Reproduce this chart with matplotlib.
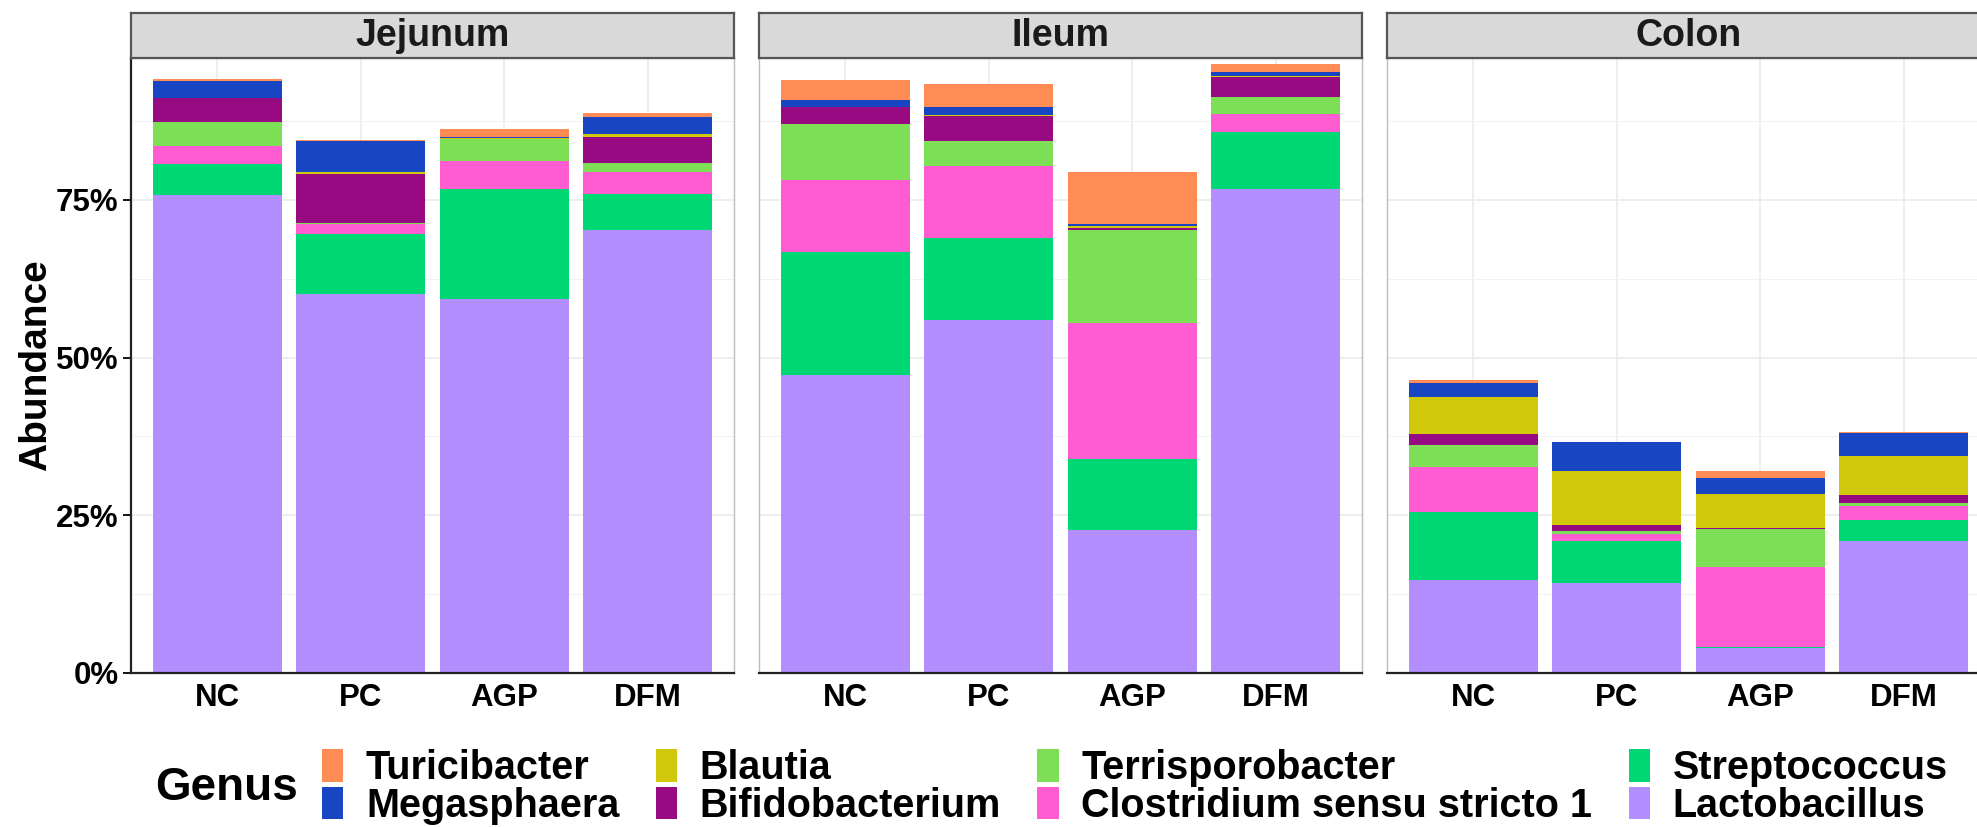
import numpy as np
import matplotlib
matplotlib.use("Agg")
import matplotlib.pyplot as plt
from matplotlib.patches import Patch
from matplotlib.ticker import MultipleLocator, FixedLocator

plt.rcParams['font.family'] = ['Liberation Sans', 'DejaVu Sans']
plt.rcParams['font.weight'] = 'bold'

## Data ##
sites = ["Jejunum", "Ileum", "Colon"]
groups = ["NC", "PC", "AGP", "DFM"]

# stacking order, bottom to top
genera = ["Lactobacillus", "Streptococcus", "Clostridium sensu stricto 1",
          "Terrisporobacter", "Bifidobacterium", "Blautia",
          "Megasphaera", "Turicibacter"]
colours = ["#B28EFF", "#00D873", "#FF5CD2", "#7DDF55",
           "#970A81", "#D1C70B", "#1845C2", "#FF8C55"]

# abundance (%) per genus, columns NC, PC, AGP, DFM
jejunum = {
    "Lactobacillus":               [75.8, 60.1, 59.3, 70.3],
    "Streptococcus":               [4.9, 9.5, 17.4, 5.7],
    "Clostridium sensu stricto 1": [2.8, 1.6, 4.5, 3.4],
    "Terrisporobacter":            [3.8, 0.1, 3.4, 1.5],
    "Bifidobacterium":             [3.8, 7.8, 0.1, 4.0],
    "Blautia":                     [0.1, 0.4, 0.1, 0.6],
    "Megasphaera":                 [2.6, 4.9, 0.1, 2.7],
    "Turicibacter":                [0.3, 0.1, 1.3, 0.6],
}
ileum = {
    "Lactobacillus":               [47.3, 55.9, 22.7, 76.8],
    "Streptococcus":               [19.4, 13.0, 11.2, 9.0],
    "Clostridium sensu stricto 1": [11.4, 11.5, 21.6, 2.8],
    "Terrisporobacter":            [9.0, 4.0, 14.8, 2.7],
    "Bifidobacterium":             [2.6, 3.9, 0.3, 3.2],
    "Blautia":                     [0.1, 0.1, 0.3, 0.1],
    "Megasphaera":                 [1.0, 1.4, 0.3, 0.7],
    "Turicibacter":                [3.2, 3.6, 8.2, 1.3],
}
colon = {
    "Lactobacillus":               [14.8, 14.3, 4.0, 21.0],
    "Streptococcus":               [10.8, 6.6, 0.1, 3.2],
    "Clostridium sensu stricto 1": [7.0, 1.1, 12.7, 2.3],
    "Terrisporobacter":            [3.5, 0.5, 6.1, 0.5],
    "Bifidobacterium":             [1.8, 1.0, 0.1, 1.2],
    "Blautia":                     [5.9, 8.5, 5.4, 6.2],
    "Megasphaera":                 [2.1, 4.6, 2.5, 3.7],
    "Turicibacter":                [0.5, 0.0, 1.1, 0.1],
}
site_data = [jejunum, ileum, colon]

y_ticks = [0, 25, 50, 75]
y_ticklabels = ["0%", "25%", "50%", "75%"]

## Layout (pixels) ##
W, H = 1977, 827
fig = plt.figure(figsize=(W / 100, H / 100), dpi=100)

panel_left = [131, 759, 1387]
panel_w = 603
panel_top, panel_bot = 58, 673
strip_top = 13

for i, (site, data) in enumerate(zip(sites, site_data)):
    ax = fig.add_axes([panel_left[i] / W, (H - panel_bot) / H,
                       panel_w / W, (panel_bot - panel_top) / H])
    x = np.arange(len(groups))
    bottom = np.zeros(len(groups))
    for g, c in zip(genera, colours):
        vals = np.array(data[g])
        ax.bar(x, vals, width=0.9, bottom=bottom, color=c, linewidth=0)
        bottom += vals

    ax.set_xlim(-0.6, len(groups) - 0.4)
    ax.set_ylim(0, 97.5)
    ax.set_xticks(x)
    ax.set_xticklabels(groups, fontsize=22.5, fontweight='bold')
    ax.tick_params(axis='x', length=0, pad=7)
    ax.yaxis.set_major_locator(FixedLocator(y_ticks))
    ax.yaxis.set_minor_locator(MultipleLocator(12.5))
    ax.grid(True, which='major', color='#EBEBEB', linewidth=1.2, zorder=0)
    ax.grid(True, which='minor', axis='y', color='#F2F2F2', linewidth=0.7, zorder=0)
    ax.set_axisbelow(True)
    ax.tick_params(axis='y', which='minor', length=0)

    for s in ['top', 'right', 'left']:
        ax.spines[s].set_color('#BDBDBD')
        ax.spines[s].set_linewidth(1.0)
    ax.spines['bottom'].set_color('#222222')
    ax.spines['bottom'].set_linewidth(1.6)

    if i == 0:
        ax.spines['left'].set_color('#222222')
        ax.spines['left'].set_linewidth(1.6)
        ax.set_yticklabels(y_ticklabels, fontsize=22.5, fontweight='bold')
        ax.tick_params(axis='y', which='major', length=6, width=1.3, pad=3)
        ax.set_ylabel("Abundance", fontsize=28, fontweight='bold')
        ax.yaxis.label.set_va('center')
        ax.yaxis.set_label_coords(-0.158, 0.5)
    else:
        ax.set_yticklabels([])
        ax.tick_params(axis='y', which='major', length=0)

    # facet strip
    sax = fig.add_axes([panel_left[i] / W, (H - panel_top) / H,
                        panel_w / W, (panel_top - strip_top) / H])
    sax.set_facecolor('#D9D9D9')
    sax.set_xticks([])
    sax.set_yticks([])
    for s in sax.spines.values():
        s.set_color('#555555')
        s.set_linewidth(1.6)
    sax.text(0.5, 0.5, site, transform=sax.transAxes, ha='center', va='center',
             fontsize=27, fontweight='bold', color='#1A1A1A')

## Legend ##
legend_order = ["Turicibacter", "Megasphaera", "Blautia", "Bifidobacterium",
                "Terrisporobacter", "Clostridium sensu stricto 1",
                "Streptococcus", "Lactobacillus"]
handles = [Patch(facecolor=colours[genera.index(g)], edgecolor='none', label=g)
           for g in legend_order]
fig.legend(handles=handles, loc='center left', ncol=4,
           bbox_to_anchor=(322 / W, (H - 787) / H), frameon=False,
           prop={'size': 28.5, 'weight': 'bold'},
           handlelength=0.54, handleheight=0.9, handletextpad=0.57,
           labelspacing=-0.02, columnspacing=0.92, borderpad=0, borderaxespad=0)
fig.text(155 / W, (H - 788) / H, "Genus", ha='left', va='center',
         fontsize=33, fontweight='bold')

fig.savefig("out.png", dpi=100)
